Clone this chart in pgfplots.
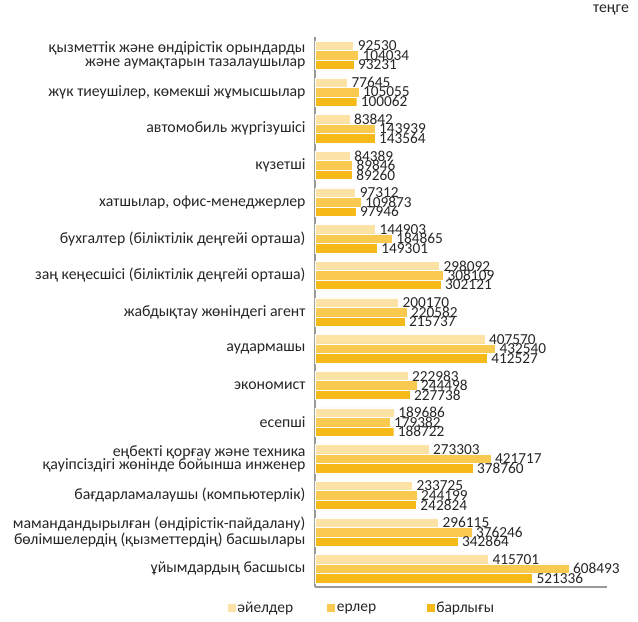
\documentclass[border=0pt]{standalone}
\usepackage{pgfplots}
\pgfplotsset{compat=1.18}
\usepackage{fontspec}
\setmainfont{Carlito}
\definecolor{cw}{HTML}{FDE2A6}
\definecolor{cm}{HTML}{FAC950}
\definecolor{ct}{HTML}{F6BA18}
\definecolor{txt}{HTML}{262626}
\pgfplotstableread{
i w m t
0 92530 104034 93231
1 77645 105055 100062
2 83842 143939 143564
3 84389 89846 89260
4 97312 109873 97946
5 144903 184865 149301
6 298092 308109 302121
7 200170 220582 215737
8 407570 432540 412527
9 222983 244498 227738
10 189686 179382 188722
11 273303 421717 378760
12 233725 244199 242824
13 296115 376246 342864
14 415701 608493 521336
}\data
\begin{document}
\begin{tikzpicture}
\begin{axis}[
  xbar=0pt, bar width=9.5pt,
  scale only axis, width=292pt, height=550pt,
  xmin=0, xmax=700000,
  ymin=-0.5, ymax=14.5, y dir=reverse,
  axis x line*=bottom, axis y line*=left,
  axis line style={draw=black!40, line width=1.2pt},
  xtick=\empty,
  ytick={0,...,14}, major tick length=0pt,
  yticklabels={{қызметтік және өндірістік орындарды\\және аумақтарын тазалаушылар},
    {жүк тиеушілер, көмекші жұмысшылар},
    {автомобиль жүргізушісі},
    {күзетші},
    {хатшылар, офис-менеджерлер},
    {бухгалтер (біліктілік деңгейі орташа)},
    {заң кеңесшісі (біліктілік деңгейі орташа)},
    {жабдықтау жөніндегі агент},
    {аудармашы},
    {экономист},
    {есепші},
    {еңбекті қорғау және техника\\қауіпсіздігі жөнінде бойынша инженер},
    {бағдарламалаушы (компьютерлік)},
    {мамандандырылған (өндірістік-пайдалану)\\бөлімшелердің (қызметтердің) басшылары},
    {ұйымдардың басшысы}},
  yticklabel style={align=right, font=\fontsize{15.8}{13.5}\selectfont, text=txt, xshift=-6pt},
  point meta=x,
  nodes near coords={\pgfmathprintnumber[fixed,precision=0,1000 sep={},assume math mode=true]{\pgfplotspointmeta}},
  every node near coord/.append style={font=\fontsize{15.3}{15}\selectfont, text=txt, inner sep=1pt, xshift=3pt},
  legend columns=3,
  legend style={draw=none, fill=none, at={(-0.312,-0.02)}, anchor=north west,
    font=\fontsize{15.5}{15}\selectfont, text=txt,
    nodes={text width=88pt, align=left, inner xsep=1pt},
    /tikz/every even column/.append style={column sep=0pt}},
  legend image code/.code={\fill[#1] (0pt,-4pt) rectangle (9pt,5pt);},
]
\addplot[fill=cw, draw=white, line width=0.4pt, bar shift=9.5pt] table[x=w, y=i] {\data};
\addplot[fill=cm, draw=white, line width=0.4pt, bar shift=0pt] table[x=m, y=i] {\data};
\addplot[fill=ct, draw=white, line width=0.4pt, bar shift=-9.5pt] table[x=t, y=i] {\data};
\legend{әйелдер, ерлер, барлығы}
\end{axis}
\node[anchor=center, font=\fontsize{15.8}{15}\selectfont, text=txt] at ([xshift=4pt, yshift=27pt]current axis.north east) {теңге};
\path[use as bounding box] ([xshift=-315pt, yshift=-34pt]current axis.south west) rectangle ([xshift=31pt, yshift=37pt]current axis.north east);
\end{tikzpicture}
\end{document}
